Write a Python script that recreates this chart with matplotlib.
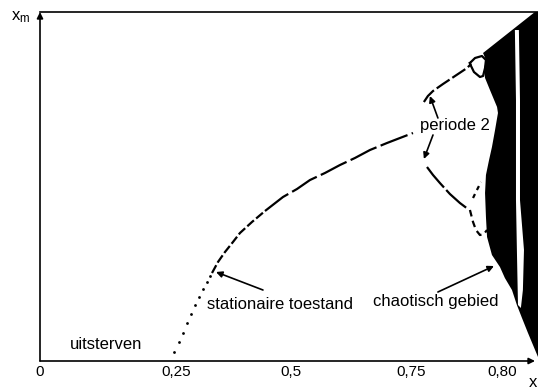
import numpy as np
import matplotlib
matplotlib.use("Agg")
import matplotlib.pyplot as plt

plt.rcParams['font.family'] = ['Liberation Sans', 'DejaVu Sans']

# as-axis labels (Dutch decimal comma)
tick_vals = [0, 0.25, 0.5, 0.75, 0.80]
tick_labels = ['0', '0,25', '0,5', '0,75', '0,80']

# the printed axis is stretched, not linear
scale_vals = [0, 0.25, 0.5, 0.75, 0.80, 0.85]
scale_pos = [0, 136, 251, 371, 462, 553]

# stationary state, dotted start
dots_r = [0.2463, 0.2565, 0.2652, 0.2739, 0.2826, 0.2913, 0.3000, 0.3087, 0.3174, 0.3239]
dots_x = [0.0258, 0.0544, 0.0802, 0.1089, 0.1347, 0.1605, 0.1834, 0.2063, 0.2264, 0.2436]

# stationary state, dashed part
low_r = [0.3283, 0.3413, 0.3565, 0.3739, 0.3891, 0.4152, 0.4435]
low_x = [0.2521, 0.2837, 0.3123, 0.3410, 0.3668, 0.3983, 0.4298]
main_r = [0.4435, 0.4826, 0.5125, 0.5396, 0.5708, 0.6021, 0.6333, 0.6646, 0.7000, 0.7271, 0.7511]
main_x = [0.4298, 0.4699, 0.4928, 0.5186, 0.5387, 0.5616, 0.5817, 0.6046, 0.6246, 0.6390, 0.6533]

# period 2 branches (the split itself sits under the label)
up_r = [0.7571, 0.7593, 0.7621, 0.7676, 0.7742, 0.7808, 0.7830]
up_x = [0.7421, 0.7593, 0.7736, 0.7937, 0.8166, 0.8395, 0.8510]
dn_r = [0.7588, 0.7621, 0.7659, 0.7714, 0.7769, 0.7813]
dn_x = [0.5559, 0.5330, 0.5100, 0.4785, 0.4527, 0.4355]

# period 4 pieces
loop_r = [0.7824, 0.7852, 0.7890, 0.7912, 0.7907, 0.7896, 0.7879, 0.7846, 0.7830, 0.7824]
loop_x = [0.8539, 0.8682, 0.8739, 0.8625, 0.8395, 0.8166, 0.8138, 0.8281, 0.8453, 0.8539]
cup_r = [0.7824, 0.7841, 0.7857, 0.7879, 0.7901, 0.7918]
cup_x = [0.4327, 0.3983, 0.3754, 0.3610, 0.3639, 0.3754]
mid_r = [0.7841, 0.7857, 0.7868, 0.7885]
mid_x = [0.4670, 0.4842, 0.4957, 0.5129]

# chaotic region outline
chaos_r = [0.8209, 0.8181, 0.7896, 0.7912, 0.7901, 0.7907, 0.7934, 0.7973, 0.7978, 0.7962,
           0.7945, 0.7929, 0.7912, 0.7907, 0.7912, 0.7918, 0.7945, 0.7989, 0.8016, 0.8055,
           0.8082, 0.8110, 0.8143, 0.8198, 0.8209]
chaos_x = [1.0, 1.0, 0.8825, 0.8625, 0.8338, 0.8109, 0.7765, 0.7278, 0.7106, 0.6619,
           0.6132, 0.5759, 0.5330, 0.4814, 0.4126, 0.3553, 0.3037, 0.2693, 0.2378, 0.2034,
           0.1605, 0.1232, 0.0802, 0.0115, 0.0115]
# white window inside the chaos
win_r = [0.8071, 0.8077, 0.8077, 0.8082, 0.8088, 0.8104, 0.8115, 0.8121, 0.8099, 0.8099, 0.8093]
win_x = [0.9484, 0.7478, 0.4613, 0.3181, 0.1605, 0.1519, 0.2034, 0.3181, 0.4613, 0.7478, 0.9484]


def forward(v):
    return np.interp(v, scale_vals, scale_pos)


def inverse(p):
    return np.interp(p, scale_pos, scale_vals)


fig = plt.figure(figsize=(5.38, 3.90), dpi=100)
ax = fig.add_axes([40 / 538, 29 / 390, 498 / 538, 349 / 390])
ax.set_xscale('function', functions=(forward, inverse))
ax.set_xlim(0, 0.8198)
ax.set_ylim(0, 1)

lw = 1.6
ax.plot(dots_r, dots_x, 'o', color='black', ms=2, mew=0)
ax.plot(low_r, low_x, color='black', lw=lw, ls=(0, (4, 1.3)))
ax.plot(main_r, main_x, color='black', lw=lw, ls=(0, (13, 2)))
ax.plot(up_r, up_x, color='black', lw=lw, ls=(0, (7, 1.5)))
ax.plot(dn_r, dn_x, color='black', lw=lw, ls=(0, (12, 1.5)))
ax.plot(loop_r, loop_x, color='black', lw=lw)
ax.plot(cup_r, cup_x, color='black', lw=lw, ls=(0, (3, 2)))
ax.plot(mid_r, mid_x, color='black', lw=lw, ls=(0, (2, 2)))
ax.fill(chaos_r, chaos_x, color='black', lw=0, clip_on=False)
ax.fill(win_r, win_x, color='white', lw=0)

ax.set_xticks(tick_vals)
ax.set_xticklabels(tick_labels, fontsize=11)
ax.tick_params(axis='x', length=0, pad=3)
ax.set_yticks([])

for s in ['right', 'bottom', 'left']:
    ax.spines[s].set_visible(False)
ax.spines['top'].set_linewidth(1.2)

arrow_ax = dict(arrowstyle='-|>', color='black', lw=1.2, mutation_scale=9,
                shrinkA=0, shrinkB=0)
ax.annotate('', xy=(0, 1.0), xytext=(0, 0), xycoords='axes fraction',
            arrowprops=arrow_ax, annotation_clip=False)
ax.annotate('', xy=(495 / 498, 0), xytext=(0, 0), xycoords='axes fraction',
            arrowprops=arrow_ax, annotation_clip=False)

fs = 12
arrow = dict(arrowstyle='-|>', color='black', lw=1.2, mutation_scale=9,
             shrinkA=0, shrinkB=0)
ax.text(0.7549, 0.6762, 'periode 2', fontsize=fs, ha='left', va='center')
ax.annotate('', xy=(0.7604, 0.7593), xytext=(0.7648, 0.6963), arrowprops=arrow)
ax.annotate('', xy=(0.7571, 0.5788), xytext=(0.7621, 0.6476), arrowprops=arrow)

ax.text(0.3174, 0.1605, 'stationaire toestand', fontsize=fs, ha='left', va='center')
ax.annotate('', xy=(0.3370, 0.2550), xytext=(0.4391, 0.2034), arrowprops=arrow)

ax.text(0.6708, 0.1691, 'chaotisch gebied', fontsize=fs, ha='left', va='center')
ax.annotate('', xy=(0.7956, 0.2722), xytext=(0.7648, 0.1977), arrowprops=arrow)

ax.text(0.0551, 0.0487, 'uitsterven', fontsize=fs, ha='left', va='center')

fig.text(11 / 538, (390 - 17) / 390, r'$\mathregular{x_m}$', fontsize=fs,
         ha='left', va='center')
fig.text(529 / 538, (390 - 375) / 390, 'x', fontsize=fs, ha='left', va='top')

fig.savefig('out.png', dpi=100)
